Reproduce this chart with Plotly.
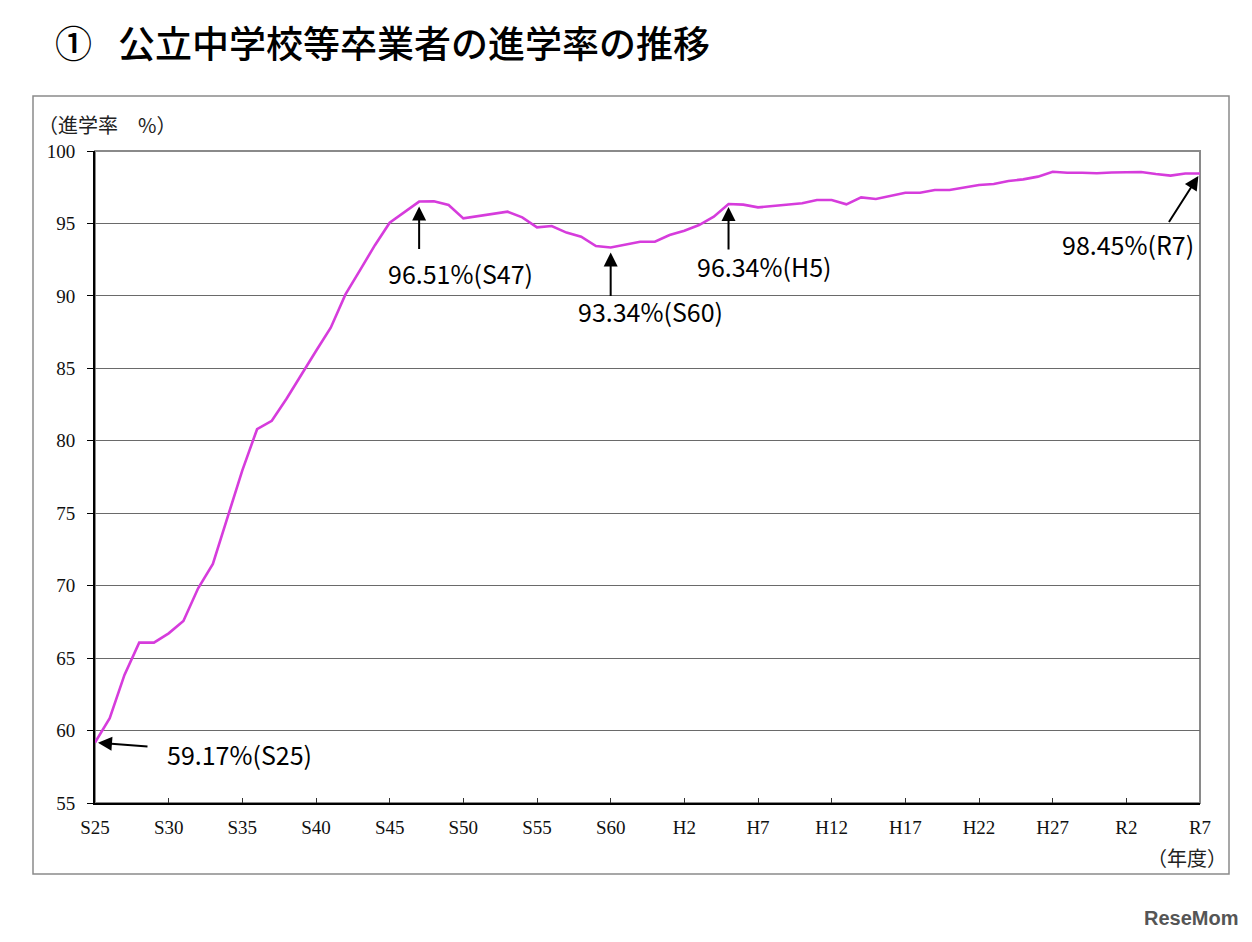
import plotly.graph_objects as go

# ---- data ----
years = list(range(1950, 2026))
rate = [59.17, 60.85, 63.84, 66.07, 66.07, 66.71, 67.56, 69.82, 71.50, 74.70,
        77.96, 80.80, 81.38, 82.90, 84.60, 86.20, 87.80, 90.10, 91.80, 93.50,
        95.05, 95.81, 96.51, 96.53, 96.27, 95.35, 95.51, 95.63, 95.81, 95.42,
        94.73, 94.82, 94.37, 94.09, 93.44, 93.34, 93.56, 93.74, 93.74, 94.20,
        94.50, 94.89, 95.47, 96.34, 96.30, 96.11, 96.20, 96.32, 96.39, 96.62,
        96.62, 96.32, 96.80, 96.69, 96.92, 97.12, 97.12, 97.31, 97.31, 97.49,
        97.65, 97.72, 97.93, 98.04, 98.23, 98.57, 98.50, 98.50, 98.46, 98.52,
        98.52, 98.55, 98.41, 98.30, 98.45, 98.45]
tick_years = list(range(1950, 2026, 5))
tick_labels = ["S25", "S30", "S35", "S40", "S45", "S50", "S55", "S60",
               "H2", "H7", "H12", "H17", "H22", "H27", "R2", "R7"]
callout_years = [1950, 1972, 1985, 1993, 2025]
callout_eras = ["S25", "S47", "S60", "H5", "R7"]

title_text = "①\u2002\u2009公立中学校等卒業者の進学率の推移"
y_title = "（進学率　%）"
x_title = "（年度）"

fig = go.Figure()
fig.add_trace(go.Scatter(x=years, y=rate, mode="lines",
                         line=dict(color="#D63CDC", width=2.6),
                         hoverinfo="x+y", showlegend=False))

# style of each callout: arrow tail offset (ax, ay), text shift, anchor
styles = [
    dict(ax=54, ay=4, xs=70, ys=-11, anchor="left", standoff=3),
    dict(ax=0, ay=49, xs=41, ys=-71, anchor="center", standoff=5),
    dict(ax=0, ay=50, xs=40, ys=-63, anchor="center", standoff=5),
    dict(ax=0, ay=47, xs=35, ys=-62, anchor="center", standoff=3),
    dict(ax=-32, ay=50, xs=-4, ys=-71, anchor="right", standoff=3),
]
annos = []
for yr, era, st in zip(callout_years, callout_eras, styles):
    v = rate[years.index(yr)]
    annos.append(dict(x=yr, y=v, xref="x", yref="y", text="", showarrow=True,
                      arrowhead=2, arrowsize=1.4, arrowwidth=2, arrowcolor="black",
                      ax=st["ax"], ay=st["ay"], standoff=st["standoff"]))
    annos.append(dict(x=yr, y=v, xref="x", yref="y", text=f"{v:.2f}%({era})",
                      showarrow=False, xanchor=st["anchor"], yanchor="middle",
                      xshift=st["xs"], yshift=st["ys"],
                      font=dict(family="Noto Sans CJK JP", size=25, color="black")))

annos.append(dict(x=(36 - 95) / 1105, y=1.04, xref="paper", yref="paper", text=y_title,
                  showarrow=False, xanchor="left", yanchor="middle",
                  font=dict(family="Noto Sans CJK JP", size=20, color="#222")))
annos.append(dict(x=(1229 - 95) / 1105, y=-0.083, xref="paper", yref="paper", text=x_title,
                  showarrow=False, xanchor="right", yanchor="middle",
                  font=dict(family="Noto Sans CJK JP", size=20, color="#222")))
annos.append(dict(x=(1240 - 95) / 1105, y=(803 - 918) / 652, xref="paper", yref="paper",
                  text="<b>ReseMom</b>", showarrow=False, xanchor="right", yanchor="middle",
                  font=dict(family="Liberation Sans Narrow, Liberation Sans", size=20, color="#555")))

fig.update_layout(
    width=1252, height=942,
    margin=dict(l=95, r=52, t=151, b=139),
    paper_bgcolor="white", plot_bgcolor="white",
    title=dict(text=title_text, x=55 / 1252, xanchor="left", y=1 - 45 / 942,
               yanchor="middle", xref="container", yref="container",
               font=dict(family="Noto Sans CJK JP", size=37, color="black", weight=500)),
    xaxis=dict(range=[1950, 2025], tickvals=tick_years, ticktext=tick_labels,
               showgrid=False, zeroline=False, showline=True, linecolor="black",
               linewidth=2, ticks="inside", ticklen=5, tickcolor="#333",
               ticklabelstandoff=6,
               tickfont=dict(family="Liberation Serif", size=19, color="#111")),
    yaxis=dict(range=[55, 100], dtick=5, tick0=55, showgrid=True, gridcolor="#6a6a6a",
               gridwidth=1, zeroline=False, showline=True, linecolor="black",
               linewidth=2, ticks="outside", ticklen=6, tickcolor="black",
               ticklabelstandoff=8,
               tickfont=dict(family="Liberation Serif", size=19, color="#111")),
    annotations=annos,
    shapes=[
        dict(type="rect", xref="paper", yref="paper", x0=(33 - 95) / 1105,
             x1=(1229 - 95) / 1105, y0=(803 - 874) / 652, y1=(803 - 96) / 652,
             line=dict(color="#8a8a8a", width=1.5), fillcolor="rgba(0,0,0,0)", layer="below"),
        dict(type="rect", xref="paper", yref="paper", x0=0, x1=1, y0=0, y1=1,
             line=dict(color="#8a8a8a", width=2), fillcolor="rgba(0,0,0,0)", layer="below"),
    ],
)

fig.write_html("out.html")
